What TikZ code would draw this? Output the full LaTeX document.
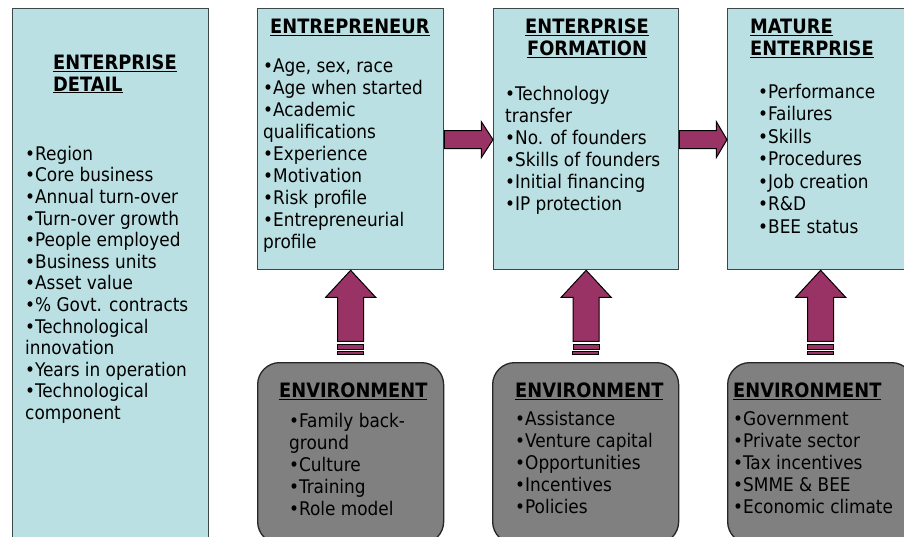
\documentclass[tikz,border=0pt]{standalone}
\usepackage{fontspec}
\setmainfont{DejaVu Sans Condensed}
\usetikzlibrary{calc}
\definecolor{boxblue}{HTML}{BBE0E3}
\definecolor{boxline}{HTML}{3C4848}
\definecolor{arrmaroon}{HTML}{993366}
\definecolor{envgray}{HTML}{808080}
\newcommand\myStrut{\rule{0pt}{16pt}}
\tikzset{
  bluebox/.style={draw=boxline, line width=1.3pt, fill=boxblue, rectangle, inner sep=0pt, anchor=north west},
  envbox/.style={draw=black!85, line width=1.3pt, fill=envgray, rectangle, rounded corners=22pt, inner sep=0pt, anchor=north west},
  bodytxt/.style={anchor=north west, align=left, inner sep=0pt, font=\fontsize{18.8}{22}\selectfont},
  headtxt/.style={anchor=north west, align=left, inner sep=0pt, font=\fontsize{19.8}{22}\selectfont\bfseries},
  arr/.style={draw=black, line width=1pt, fill=arrmaroon, line join=miter},
}
\begin{document}
\begin{tikzpicture}[x=1pt,y=-1pt]
\useasboundingbox (0,0) rectangle (904,537);
\clip (0,0) rectangle (904,537);
\fill[white] (0,0) rectangle (904,537);
% boxes
\node[bluebox, minimum width=196pt, minimum height=545pt] (det) at (12,8) {};
\node[bluebox, minimum width=186pt, minimum height=261pt] (ent) at (257,8) {};
\node[bluebox, minimum width=185pt, minimum height=261pt] (form) at (493,8) {};
\node[bluebox, minimum width=186pt, minimum height=261pt] (mat) at (727,8) {};
\node[envbox, minimum width=186pt, minimum height=181pt] (env1) at (257,362) {};
\node[envbox, minimum width=186pt, minimum height=181pt] (env2) at (492,362) {};
\node[envbox, minimum width=186pt, minimum height=181pt] (env3) at (727,362) {};
% texts
\node[headtxt] (detH) at (53,53) {\myStrut\underline{ENTERPRISE}\\\underline{DETAIL}};
\node[bodytxt, font=\fontsize{18.8}{21.6}\selectfont] (detT) at (25,144) {\myStrut•Region\\•Core business\\•Annual turn-over\\•Turn-over growth\\•People employed\\•Business units\\•Asset value\\•\% Govt. contracts\\•Technological\\innovation\\•Years in operation\\•Technological\\component};
\node[headtxt] (entH) at (270,17) {\myStrut\underline{ENTREPRENEUR}};
\node[bodytxt] (entT) at (263,56) {\myStrut•Age, sex, race\\•Age when started\\•Academic\\qualifications\\•Experience\\•Motivation\\•Risk profile\\•Entrepreneurial\\profile};
\node[headtxt, anchor=north, align=center] (formH) at (587,17) {\myStrut\underline{ENTERPRISE}\\\underline{FORMATION}};
\node[bodytxt] (formT) at (505,84) {\myStrut•Technology\\transfer\\•No. of founders\\•Skills of founders\\•Initial financing\\•IP protection};
\node[headtxt] (matH) at (750,17) {\myStrut\underline{MATURE}\\\underline{ENTERPRISE}};
\node[bodytxt, font=\fontsize{18.8}{22.5}\selectfont] (matT) at (758,82) {\myStrut•Performance\\•Failures\\•Skills\\•Procedures\\•Job creation\\•R\&D\\•BEE status};
\node[headtxt] (env1H) at (279,381) {\myStrut\underline{ENVIRONMENT}};
\node[bodytxt] (env1T) at (289,411) {\myStrut•Family back-\\ground\\•Culture\\•Training\\•Role model};
\node[headtxt] (env2H) at (515,381) {\myStrut\underline{ENVIRONMENT}};
\node[bodytxt] (env2T) at (515,409) {\myStrut•Assistance\\•Venture capital\\•Opportunities\\•Incentives\\•Policies};
\node[headtxt] (env3H) at (733,381) {\myStrut\underline{ENVIRONMENT}};
\node[bodytxt] (env3T) at (733,409) {\myStrut•Government\\•Private sector\\•Tax incentives\\•SMME \& BEE\\•Economic climate};
% right arrows
\foreach \a/\b in {ent/form, form/mat}{
  \draw[arr] ($(\a.east)+(0,-8.5)$) -- ++(37,0) -- ++(0,-9) -- ($(\b.west)+(0,0.5)$) -- ($(\a.east)+(37,18.5)$) -- ++(0,-9) -- ++(-37,0) -- cycle;
}
% up arrows
\foreach \a/\b in {env1/ent, env2/form, env3/mat}{
  \draw[arr] (\b.south) -- ++(25,27) -- ++(-12,0) -- ++(0,44) -- ++(-26,0) -- ++(0,-44) -- ++(-12,0) -- cycle;
  \draw[arr] ($(\b.south)+(-13,74)$) rectangle ++(26,5);
  \draw[arr] ($(\a.north)+(-13,-11)$) rectangle ++(26,3);
}
\end{tikzpicture}
\end{document}
